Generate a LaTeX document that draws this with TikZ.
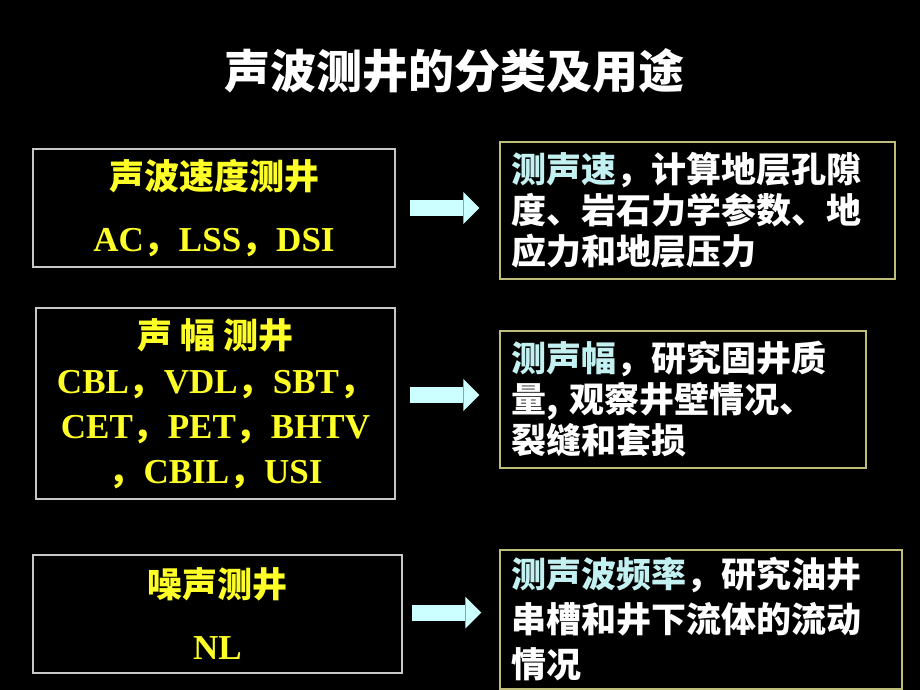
\documentclass[tikz,border=0pt]{standalone}
\usepackage{fontspec}
\setmainfont{Liberation Serif}
\newfontfamily\cjk{Noto Sans CJK SC}
\usetikzlibrary{arrows.meta}

\definecolor{labyellow}{RGB}{255,255,40}
\definecolor{keycyan}{RGB}{195,240,240}
\definecolor{flowcyan}{RGB}{204,255,255}
\definecolor{boxgray}{RGB}{200,200,200}
\definecolor{boxolive}{RGB}{190,190,120}

\newcommand\zc{{\cjk ，}}

\begin{document}
\begin{tikzpicture}[x=1pt, y=-1pt,
        leftbox/.style={draw=boxgray, line width=1.5pt, text=labyellow, align=center, inner sep=0pt},
        rightbox/.style={draw=boxolive, line width=1.5pt, text=white, align=left, inner xsep=11pt, inner ysep=0pt,
            font=\cjk\bfseries\fontsize{35}{41}\selectfont},
        flow/.style={color=flowcyan, line width=16pt, -{Triangle[length=16pt,width=32pt,line width=0pt]},
            shorten <=14pt, shorten >=20pt}]
    \fill[black] (0,0) rectangle (920,690);
    \useasboundingbox (0,0) rectangle (920,690);

    \node[text=white, font=\cjk\bfseries\fontsize{46}{50}\selectfont] (title) at (454,71) {声波测井的分类及用途};

    \node[leftbox, minimum width=362pt, minimum height=118pt, font=\bfseries\fontsize{35}{62}\selectfont]
        (sonic) at (214,208) {{\cjk 声波速度测井}\\AC\zc LSS\zc DSI};
    \node[leftbox, minimum width=359pt, minimum height=191pt, font=\bfseries\fontsize{35}{45}\selectfont]
        (ampl) at (215.5,403.5) {{\cjk 声 幅 测井}\\CBL\zc VDL\zc SBT\zc\\CET\zc PET\zc BHTV\\\zc CBIL\zc USI};
    \node[leftbox, minimum width=369pt, minimum height=118pt, font=\bfseries\fontsize{35}{62}\selectfont]
        (noise) at (217.5,614) {{\cjk 噪声测井}\\NL};

    \node[rightbox, text width=373pt, minimum height=137pt] (velo) at (697.5,210.5)
        {\textcolor{keycyan}{测声速}，计算地层孔隙\\度、岩石力学参数、地\\应力和地层压力};
    \node[rightbox, text width=344pt, minimum height=137pt] (cbond) at (683,399.5)
        {\textcolor{keycyan}{测声幅}，研究固井质\\量, 观察井壁情况、\\裂缝和套损};
    \node[rightbox, text width=380pt, minimum height=139pt, font=\cjk\bfseries\fontsize{35}{45}\selectfont]
        (flowout) at (701,619.5)
        {\textcolor{keycyan}{测声波频率}，研究油井\\串槽和井下流体的流动\\情况};

    \coordinate (a2) at ([yshift=8.5pt]ampl.east);
    \coordinate (a3) at ([yshift=1.5pt]noise.east);
    \draw[flow] (sonic.east) -- (sonic.east -| velo.west);
    \draw[flow] (a2) -- (a2 -| cbond.west);
    \draw[flow, shorten <=9pt, shorten >=18pt] (a3) -- (a3 -| flowout.west);
\end{tikzpicture}
\end{document}
